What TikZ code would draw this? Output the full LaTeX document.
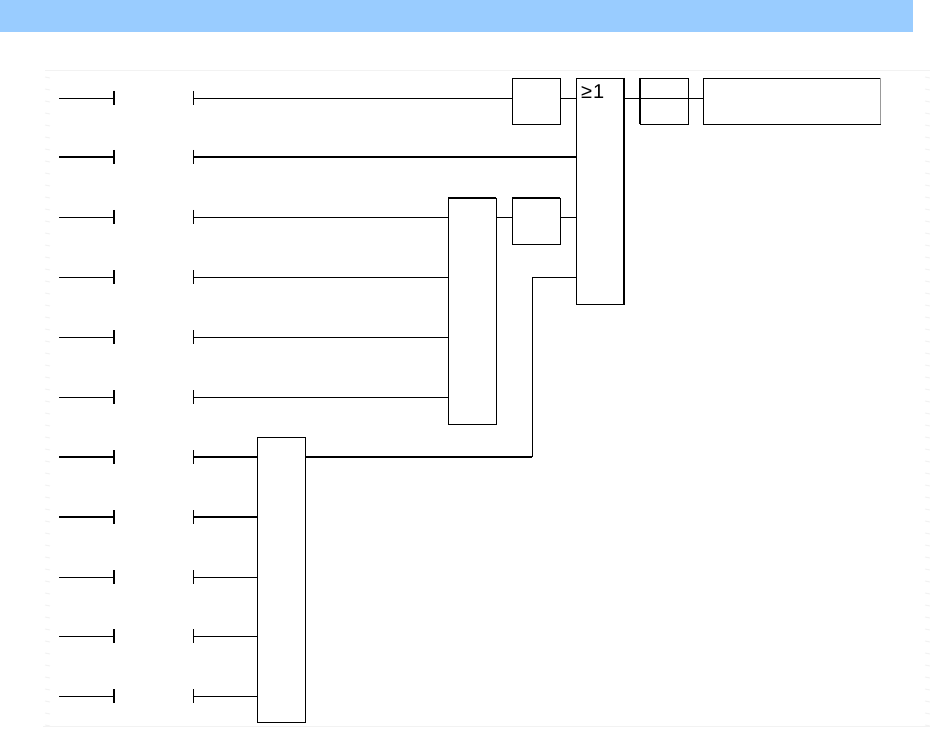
\documentclass[tikz,border=0pt]{standalone}
\usepackage{fontspec}
\newfontfamily\gatefont{Liberation Sans}
\tikzset{
  x=1pt,y=-1pt,
  gatebox/.style={draw=black,line width=0.95pt,fill=white,inner sep=0pt,outer sep=0pt,anchor=north west},
  wire/.style={draw=black,line width=0.95pt},
  heavywire/.style={draw=black,line width=2pt},
  stubtick/.style={draw=black,line width=2pt},
  thintick/.style={draw=black,line width=0.95pt},
  sheetline/.style={draw=black!5,line width=1pt},
  greyedge/.style={draw=black!40,line width=1pt},
}
\begin{document}
\begin{tikzpicture}
\useasboundingbox (0,0) rectangle (930,733);
\fill[fill={rgb,255:red,153;green,204;blue,255}] (0,0) rectangle (913,32);
% sheet edge
\draw[sheetline] (45,71) -- (930,71);
\draw[sheetline] (43,726) -- (930,726);
\foreach \k in {0,...,54}{\draw[sheetline] (45,{77+12*\k}) -- (50,{78+12*\k});}
\foreach \k in {0,...,54}{\draw[sheetline] (925,{77+12*\k}) -- (930,{78+12*\k});}
% rows
\foreach \i/\ry in {1/98,2/157,3/217,4/277,5/337,6/397,7/457,8/517,9/577,10/636,11/696}{
  \coordinate (a\i) at (59,\ry);
  \coordinate (b\i) at (114,\ry);
  \coordinate (c\i) at (193,\ry);
}
% boxes
\node[gatebox,minimum width=48pt,minimum height=46pt] (inva) at (512,78) {};
\node[gatebox,minimum width=48pt,minimum height=226pt] (orb) at (576,78) {};
\node[gatebox,minimum width=48pt,minimum height=46pt] (outb) at (640,78) {};
\node[gatebox,minimum width=177pt,minimum height=46pt] (name) at (703,78) {};
\node[gatebox,minimum width=48pt,minimum height=226pt] (andd) at (448,198) {};
\node[gatebox,minimum width=48pt,minimum height=46pt] (inve) at (512,198) {};
\node[gatebox,minimum width=48pt,minimum height=285pt] (andf) at (257,437) {};
\node[anchor=west,inner sep=0pt,font=\gatefont\fontsize{20}{20}\selectfont] (gelabel) at (581,92) {≥\kern1pt 1};
% heavier box edges
\draw[heavywire] (orb.north east) -- (orb.south east);
\draw[heavywire] (andd.north west) -- (andd.north east);
\draw[heavywire] (inve.north west) -- (inve.north east);
\draw[heavywire] (outb.north west) -- (outb.south west);
\draw[greyedge] (name.north east) -- (name.south east);
% stubs
\foreach \i in {1,3,4,5,6,9,10,11}{\draw[wire] (a\i) -- (b\i);}
\foreach \i in {2,7,8}{\draw[heavywire] (a\i) -- (b\i);}
\foreach \i in {1,...,11}{
  \draw[stubtick] ([yshift=7pt]b\i) -- ([yshift=-7pt]b\i);
  \draw[thintick] ([yshift=7pt]c\i) -- ([yshift=-7pt]c\i);
}
% wires
\draw[wire] (c1) -- (c1 -| inva.west);
\draw[wire] (c1 -| inva.east) -- (c1 -| orb.west);
\draw[wire] (c1 -| orb.east) -- (c1 -| name.west);
\draw[heavywire] (c2) -- (c2 -| orb.west);
\draw[wire] (c3) -- (c3 -| andd.west);
\draw[wire] (c3 -| andd.east) -- (c3 -| inve.west);
\draw[wire] (c3 -| inve.east) -- (c3 -| orb.west);
\draw[wire] (c4) -- (c4 -| andd.west);
\draw[wire] (c5) -- (c5 -| andd.west);
\draw[wire] (c6) -- (c6 -| andd.west);
\draw[heavywire] (c7) -- (c7 -| andf.west);
\draw[heavywire] (c8) -- (c8 -| andf.west);
\draw[wire] (c9) -- (c9 -| andf.west);
\draw[wire] (c10) -- (c10 -| andf.west);
\draw[wire] (c11) -- (c11 -| andf.west);
\coordinate (bend) at (532,457);
\draw[heavywire] (c7 -| andf.east) -- (bend);
\draw[wire] (bend) -- (bend |- c4) -- (c4 -| orb.west);
\end{tikzpicture}
\end{document}
